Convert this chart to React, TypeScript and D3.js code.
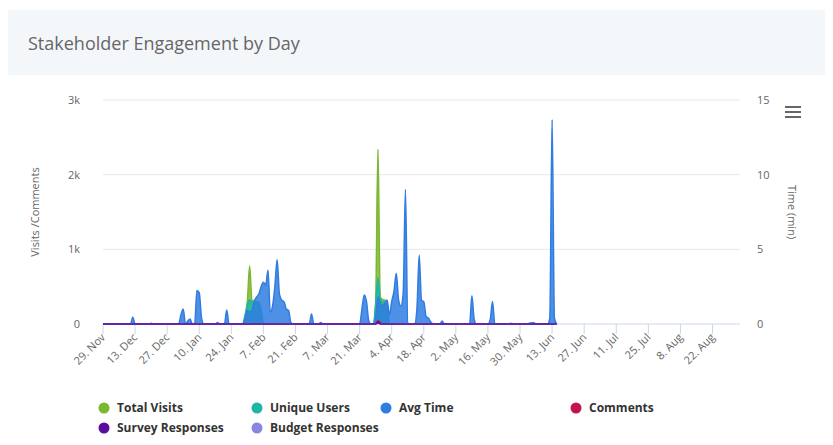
import React from "react";
import * as d3 from "d3";

const startDate = "2021-11-29";
const dataEndDate = "2022-06-15";
const axisEndDate = "2022-09-03";

const tickDates = [
  "2021-11-29", "2021-12-13", "2021-12-27", "2022-01-10", "2022-01-24", "2022-02-07",
  "2022-02-21", "2022-03-07", "2022-03-21", "2022-04-04", "2022-04-18", "2022-05-02",
  "2022-05-16", "2022-05-30", "2022-06-13", "2022-06-27", "2022-07-11", "2022-07-25",
  "2022-08-08", "2022-08-22",
];
const leftTicks = [0, 1000, 2000, 3000];
const leftTickLabels = ["0", "1k", "2k", "3k"];
const rightTicks = [0, 5, 10, 15];

// Non-zero daily values (all other days are 0)
const totalVisits: [string, number][] = [
  ["2022-01-30", 120], ["2022-01-31", 300], ["2022-02-01", 777], ["2022-02-02", 320],
  ["2022-02-03", 310], ["2022-02-04", 300], ["2022-02-05", 290], ["2022-02-06", 200],
  ["2022-03-28", 300], ["2022-03-29", 2340], ["2022-03-30", 360], ["2022-03-31", 330],
  ["2022-04-01", 320], ["2022-04-02", 250],
];
const uniqueUsers: [string, number][] = [
  ["2022-01-30", 100], ["2022-01-31", 260], ["2022-02-01", 320], ["2022-02-02", 290],
  ["2022-02-03", 280], ["2022-02-04", 280], ["2022-02-05", 270], ["2022-02-06", 180],
  ["2022-03-28", 260], ["2022-03-29", 620], ["2022-03-30", 330], ["2022-03-31", 300],
  ["2022-04-01", 290], ["2022-04-02", 220],
];
const avgTime: [string, number][] = [
  ["2021-12-12", 0.45], ["2021-12-20", 0.05], ["2022-01-02", 0.6], ["2022-01-03", 1.0],
  ["2022-01-05", 0.2], ["2022-01-06", 0.33], ["2022-01-09", 2.25], ["2022-01-10", 2.1],
  ["2022-01-11", 0.4],
  ["2022-01-18", 0.1], ["2022-01-22", 0.93], ["2022-01-30", 0.4], ["2022-01-31", 0.9],
  ["2022-02-01", 0.8], ["2022-02-02", 0.9], ["2022-02-03", 1.5], ["2022-02-04", 1.8],
  ["2022-02-05", 2.0], ["2022-02-06", 2.5], ["2022-02-07", 2.8], ["2022-02-08", 2.6],
  ["2022-02-09", 3.6], ["2022-02-10", 0.8], ["2022-02-11", 1.2], ["2022-02-12", 2.5],
  ["2022-02-13", 4.3], ["2022-02-14", 2.0], ["2022-02-15", 1.6], ["2022-02-16", 1.5],
  ["2022-02-17", 1.0], ["2022-02-18", 0.9], ["2022-02-19", 0.1], ["2022-02-28", 0.67],
  ["2022-03-04", 0.1], ["2022-03-22", 1.0], ["2022-03-23", 1.94], ["2022-03-24", 1.5],
  ["2022-03-25", 0.2], ["2022-03-28", 0.5], ["2022-03-29", 1.8], ["2022-03-30", 1.4],
  ["2022-03-31", 1.2], ["2022-04-01", 1.4], ["2022-04-02", 1.6], ["2022-04-03", 0.6],
  ["2022-04-04", 1.5], ["2022-04-05", 2.2], ["2022-04-06", 3.4], ["2022-04-07", 1.6],
  ["2022-04-08", 1.2], ["2022-04-09", 2.0], ["2022-04-10", 9.0], ["2022-04-11", 0.05],
  ["2022-04-15", 1.0], ["2022-04-16", 4.6], ["2022-04-17", 1.6], ["2022-04-18", 1.5],
  ["2022-04-19", 0.5], ["2022-04-20", 0.4], ["2022-04-21", 0.15], ["2022-04-26", 0.2],
  ["2022-05-09", 1.9], ["2022-05-10", 0.3], ["2022-05-17", 0.3], ["2022-05-18", 1.5],
  ["2022-05-26", 0.05], ["2022-06-03", 0.05], ["2022-06-04", 0.08], ["2022-06-05", 0.08],
  ["2022-06-12", 0.4], ["2022-06-13", 13.7], ["2022-06-14", 0.4],
];
const comments: [string, number][] = [["2022-03-29", 45], ["2022-03-30", 20]];
const surveyResponses: [string, number][] = [["2022-03-29", 30]];
const budgetResponses: [string, number][] = [["2022-02-01", 10], ["2022-03-29", 12]];

const seriesNames = ["Total Visits", "Unique Users", "Avg Time", "Comments", "Survey Responses", "Budget Responses"];
const seriesColors = ["#7cb82f", "#1eb5a8", "#2f7de1", "#c2134f", "#5a0f9c", "#8a86e0"];

const parse = d3.utcParse("%Y-%m-%d");
const fmtKey = d3.utcFormat("%Y-%m-%d");
const fmtTick = d3.utcFormat("%-d. %b");

function buildDaily(points: [string, number][]) {
  const m = new Map(points);
  return d3.utcDay.range(parse(startDate)!, d3.utcDay.offset(parse(dataEndDate)!, 1)).map((d) => ({
    date: d,
    value: m.get(fmtKey(d)) ?? 0,
  }));
}

const W = 833, H = 445;
const plotL = 103, plotR = 740, plotT = 100, plotB = 324;

export default function App() {
  const x = d3.scaleUtc().domain([parse(startDate)!, parse(axisEndDate)!]).range([plotL, plotR]);
  const yL = d3.scaleLinear().domain([0, 3000]).range([plotB, plotT]);
  const yR = d3.scaleLinear().domain([0, 15]).range([plotB, plotT]);

  const raw = [totalVisits, uniqueUsers, avgTime, comments, surveyResponses, budgetResponses];
  const series = raw.map((pts, i) => ({
    name: seriesNames[i],
    color: seriesColors[i],
    data: buildDaily(pts),
    y: i === 2 ? yR : yL,
  }));
  const drawOrder = [0, 1, 2, 3, 5, 4];

  const font = "'Open Sans', 'Noto Sans', sans-serif";

  const legendPos = [
    [104, 408], [257, 408], [386, 408], [576, 408], [104, 428], [257, 428],
  ];

  return (
    <svg width={W} height={H} style={{ position: "absolute", left: 0, top: 0, background: "#fff" }} fontFamily={font}>
      <rect x={8} y={10} width={817} height={65} fill="#f4f7fa" />
      <text x={28} y={50} fontSize={18} fill="#666">Stakeholder Engagement by Day</text>

      {leftTicks.map((t) => (
        <line key={t} x1={plotL} x2={plotR} y1={yL(t)} y2={yL(t)} stroke={t === 0 ? "#ccd6eb" : "#e9e9e9"} strokeWidth={1} />
      ))}
      {leftTicks.map((t, i) => (
        <text key={"l" + t} x={80} y={yL(t) + 4} fontSize={11} fill="#666" textAnchor="end">{leftTickLabels[i]}</text>
      ))}
      {rightTicks.map((t) => (
        <text key={"r" + t} x={757} y={yR(t) + 4} fontSize={11} fill="#666">{t}</text>
      ))}
      <text transform={`translate(39,${(plotT + plotB) / 2}) rotate(-90)`} fontSize={11} fill="#666" textAnchor="middle">Visits /Comments</text>
      <text transform={`translate(788,${(plotT + plotB) / 2}) rotate(90)`} fontSize={11} fill="#666" textAnchor="middle">Time (min)</text>

      {tickDates.map((s) => {
        const d = parse(s)!;
        const px = x(d);
        return (
          <g key={s}>
            <line x1={px} x2={px} y1={plotB} y2={plotB + 10} stroke="#ccd6eb" />
            <text transform={`translate(${px + 3},${plotB + 14}) rotate(-45)`} fontSize={11} fill="#666" textAnchor="end">{fmtTick(d)}</text>
          </g>
        );
      })}

      {drawOrder.map((i) => {
        const s = series[i];
        const area = d3.area<{ date: Date; value: number }>()
          .x((d) => x(d.date))
          .y0(plotB)
          .y1((d) => s.y(d.value))
          .curve(d3.curveMonotoneX);
        const line = d3.line<{ date: Date; value: number }>()
          .x((d) => x(d.date))
          .y((d) => s.y(d.value))
          .curve(d3.curveMonotoneX);
        return (
          <g key={s.name}>
            <path d={area(s.data)!} fill={s.color} fillOpacity={0.85} />
            <path d={line(s.data)!} fill="none" stroke={s.color} strokeWidth={1.5} />
          </g>
        );
      })}

      <g stroke="#666" strokeWidth={2}>
        <line x1={785} x2={801} y1={107} y2={107} />
        <line x1={785} x2={801} y1={112} y2={112} />
        <line x1={785} x2={801} y1={117} y2={117} />
      </g>

      {series.map((s, i) => (
        <g key={"lg" + i}>
          <circle cx={legendPos[i][0]} cy={legendPos[i][1]} r={5.5} fill={s.color} />
          <text x={legendPos[i][0] + 13} y={legendPos[i][1] + 4} fontSize={12} fontWeight="bold" fill="#333">{s.name}</text>
        </g>
      ))}
    </svg>
  );
}
